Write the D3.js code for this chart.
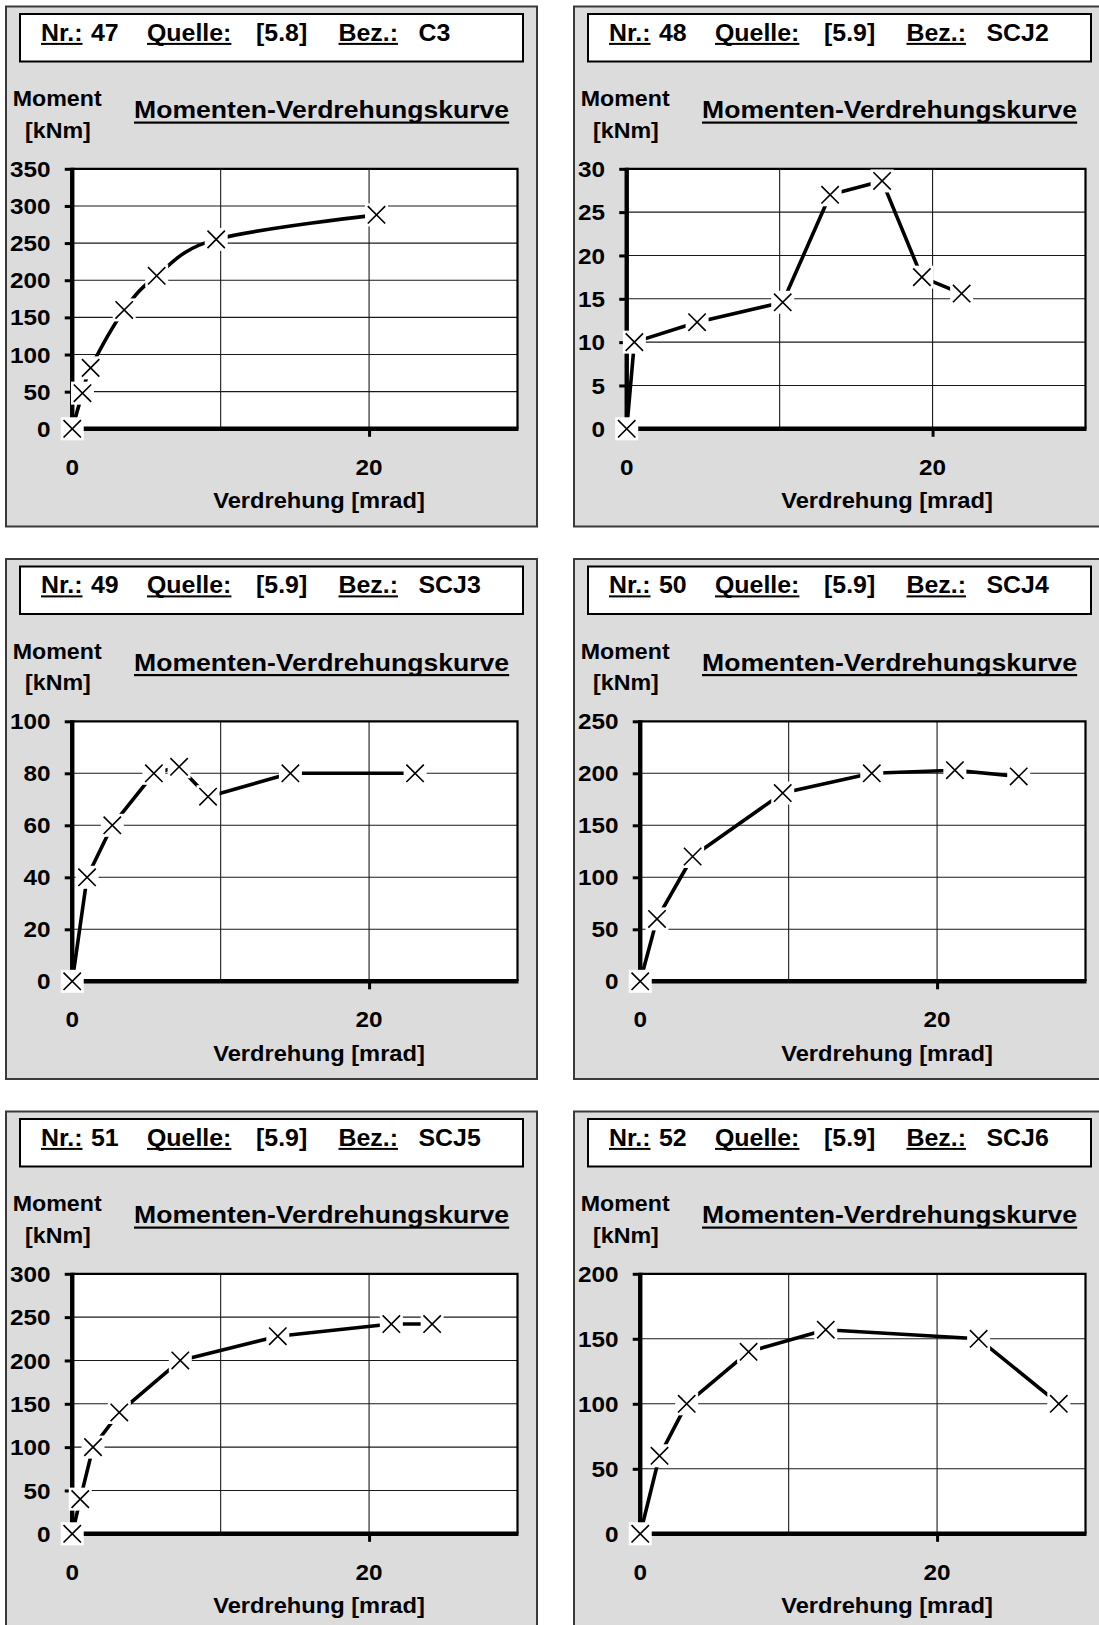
<!DOCTYPE html>
<html>
<head>
<meta charset="utf-8">
<script src="https://cdn.jsdelivr.net/npm/d3@7"></script>
<style>
  body { margin: 0; background: #ffffff; }
  svg { display: block; }
</style>
</head>
<body>
<svg id="chart" width="1099" height="1625"></svg>
<script>
// Catalogue entries
const testNr = [47, 48, 49, 50, 51, 52];
const sourceRef = ["[5.8]", "[5.9]", "[5.9]", "[5.9]", "[5.9]", "[5.9]"];
const specimen = ["C3", "SCJ2", "SCJ3", "SCJ4", "SCJ5", "SCJ6"];

// Rotation [mrad] and moment [kNm] per specimen
const rotC3 = [0, 0.69, 1.24, 3.5, 5.69, 9.7, 20.5];
const momC3 = [0, 48, 82, 160, 206, 255, 288];
const rotSCJ2 = [0, 0.5, 4.6, 10.2, 13.3, 16.7, 19.3, 21.9];
const momSCJ2 = [0, 10, 12.3, 14.6, 27, 28.6, 17.5, 15.6];
const rotSCJ3 = [0, 1.0, 2.7, 5.5, 7.2, 9.15, 14.7, 23.1];
const momSCJ3 = [0, 40, 60, 80, 82.5, 71, 80, 80];
const rotSCJ4 = [0, 1.13, 3.53, 9.6, 15.6, 21.2, 25.5];
const momSCJ4 = [0, 60, 120, 181, 200, 203, 197];
const rotSCJ5 = [0, 0.54, 1.4, 3.17, 7.28, 13.85, 21.5, 24.25];
const momSCJ5 = [0, 40, 100, 140, 200, 228, 242, 242];
const rotSCJ6 = [0, 1.3, 3.13, 7.3, 12.5, 22.8, 28.2];
const momSCJ6 = [0, 60, 100, 140, 157, 150, 100];

// Axis ranges and tick labels
const yMax = [350, 30, 100, 250, 300, 200];
const yStep = [50, 5, 20, 50, 50, 50];
const xMax = 30;
const xGrid = [10, 20, 30];
const xTickLabels = [0, 20];

// Texts
const txtNr = "Nr.:";
const txtSource = "Quelle:";
const txtName = "Bez.:";
const txtYLabel1 = "Moment";
const txtYLabel2 = "[kNm]";
const txtTitle = "Momenten-Verdrehungskurve";
const txtXLabel = "Verdrehung [mrad]";

const rotations = [rotC3, rotSCJ2, rotSCJ3, rotSCJ4, rotSCJ5, rotSCJ6];
const moments = [momC3, momSCJ2, momSCJ3, momSCJ4, momSCJ5, momSCJ6];
const smoothed = [true, false, false, false, false, false];

// ---- layout ----
const FONT = "'Liberation Sans', Arial, Helvetica, sans-serif";
const panelX = [6, 574];
const panelY = [6.5, 559, 1111.5];
const PW = 531, PH = 520;
const plotTop = 162.3, plotBottom = 422.3, plotRight = 511.5;

const svg = d3.select("#chart");

function label(g, str, x, y, size, sx, anchor) {
  return g.append("text")
    .attr("transform", `translate(${x},${y}) scale(${sx},1)`)
    .attr("font-family", FONT)
    .attr("font-weight", "bold")
    .attr("font-size", size)
    .attr("text-anchor", anchor || "start")
    .attr("fill", "#000")
    .text(str);
}

function underlined(g, str, x, y, size, sx, off, thick) {
  const t = label(g, str, x, y, size, sx);
  const w = t.node().getComputedTextLength() * sx;
  g.append("rect")
    .attr("x", x).attr("y", y + off)
    .attr("width", w).attr("height", thick)
    .attr("fill", "#000");
  return t;
}

rotations.forEach((rot, i) => {
  const col = i % 2, row = Math.floor(i / 2);
  const g = svg.append("g").attr("transform", `translate(${panelX[col]},${panelY[row]})`);

  // panel frame
  g.append("rect")
    .attr("width", PW).attr("height", PH)
    .attr("fill", "#dcdcdc")
    .attr("stroke", "#3a3a3a").attr("stroke-width", 2);

  // header box
  g.append("rect")
    .attr("x", 14).attr("y", 7.5).attr("width", 503).attr("height", 47.5)
    .attr("fill", "#ffffff")
    .attr("stroke", "#000").attr("stroke-width", 2);
  const hy = 34, hs = 23.5, hx = 1.06;
  underlined(g, txtNr, 35, hy, hs, hx, 2.4, 2);
  label(g, String(testNr[i]), 85, hy, hs, hx);
  underlined(g, txtSource, 141, hy, hs, hx, 2.4, 2);
  label(g, sourceRef[i], 250, hy, hs, hx);
  underlined(g, txtName, 332.5, hy, hs, hx, 2.4, 2);
  label(g, specimen[i], 412.5, hy, hs, hx);

  // axis caption and chart title
  label(g, txtYLabel1, 6.7, 99.5, 22, 1.055);
  label(g, txtYLabel2, 19, 131, 22, 1.055);
  underlined(g, txtTitle, 128, 111.5, 23.5, 1.132, 3.5, 2.2);

  // y tick labels (measure to place the plot area)
  const yTicks = d3.range(0, yMax[i] + yStep[i] / 2, yStep[i]);
  const tickSize = 22.5, tickSx = 1.08;
  const probe = label(g, String(yMax[i]), 0, -50, tickSize, tickSx);
  const maxW = d3.max(yTicks, v => { probe.text(String(v)); return probe.node().getComputedTextLength() * tickSx; });
  probe.remove();
  const labelRight = 4 + maxW;
  const plotLeft = labelRight + 21.7;

  const x = d3.scaleLinear().domain([0, xMax]).range([plotLeft, plotRight]);
  const y = d3.scaleLinear().domain([0, yMax[i]]).range([plotBottom, plotTop]);

  // plot background
  g.append("rect")
    .attr("x", plotLeft).attr("y", plotTop)
    .attr("width", plotRight - plotLeft).attr("height", plotBottom - plotTop)
    .attr("fill", "#ffffff");

  // grid lines
  g.append("g").selectAll("line").data(yTicks.filter(v => v > 0 && v < yMax[i])).join("line")
    .attr("x1", plotLeft).attr("x2", plotRight)
    .attr("y1", d => y(d)).attr("y2", d => y(d))
    .attr("stroke", "#1a1a1a").attr("stroke-width", 1.1);
  g.append("g").selectAll("line").data(xGrid.filter(v => v < xMax)).join("line")
    .attr("x1", d => x(d)).attr("x2", d => x(d))
    .attr("y1", plotTop).attr("y2", plotBottom)
    .attr("stroke", "#1a1a1a").attr("stroke-width", 1.1);

  // plot border (top, right)
  g.append("path")
    .attr("d", `M${plotLeft},${plotTop}H${plotRight}V${plotBottom}`)
    .attr("fill", "none").attr("stroke", "#000").attr("stroke-width", 2.2);

  // y axis with outside ticks
  const yAxis = d3.axisLeft(y).tickValues(yTicks).tickSize(7.5).tickFormat("");
  const ya = g.append("g").attr("transform", `translate(${plotLeft},0)`).call(yAxis);
  ya.select(".domain").attr("stroke", "#000").attr("stroke-width", 4.4).attr("d", `M0,${plotTop - 1}V${plotBottom}`);
  ya.selectAll(".tick line").attr("stroke", "#000").attr("stroke-width", 3);

  // x axis with outside ticks at labelled positions
  const xAxis = d3.axisBottom(x).tickValues(xTickLabels).tickSize(8).tickFormat("");
  const xa = g.append("g").attr("transform", `translate(0,${plotBottom})`).call(xAxis);
  xa.select(".domain").attr("stroke", "#000").attr("stroke-width", 4.4).attr("d", `M${plotLeft},0H${plotRight + 1}`);
  xa.selectAll(".tick line").attr("stroke", "#000").attr("stroke-width", 3);

  // y tick labels
  yTicks.forEach(v => label(g, String(v), labelRight, y(v) + 8.1, tickSize, tickSx, "end"));
  // x tick labels
  xTickLabels.forEach(v => label(g, String(v), x(v), 468, tickSize, tickSx, "middle"));
  // x axis caption
  label(g, txtXLabel, 313, 501.5, 22, 1.076, "middle");

  // data
  const pts = rot.map((r, k) => [r, moments[i][k]]);
  const line = d3.line()
    .x(d => x(d[0])).y(d => y(d[1]))
    .curve(smoothed[i] ? d3.curveCardinal : d3.curveLinear);
  g.append("path")
    .attr("d", line(pts))
    .attr("fill", "none").attr("stroke", "#000")
    .attr("stroke-width", 3.6).attr("stroke-linejoin", "round");

  // markers: white box with a cross
  const box = 23, arm = 8.7;
  const mk = g.append("g").selectAll("g").data(pts).join("g")
    .attr("transform", d => `translate(${x(d[0])},${y(d[1])})`);
  mk.append("rect")
    .attr("x", -box / 2).attr("y", -box / 2).attr("width", box).attr("height", box)
    .attr("fill", "#ffffff");
  mk.append("path")
    .attr("d", `M${-arm},${-arm}L${arm},${arm}M${-arm},${arm}L${arm},${-arm}`)
    .attr("stroke", "#000").attr("stroke-width", 1.6).attr("fill", "none");
});
</script>
</body>
</html>
